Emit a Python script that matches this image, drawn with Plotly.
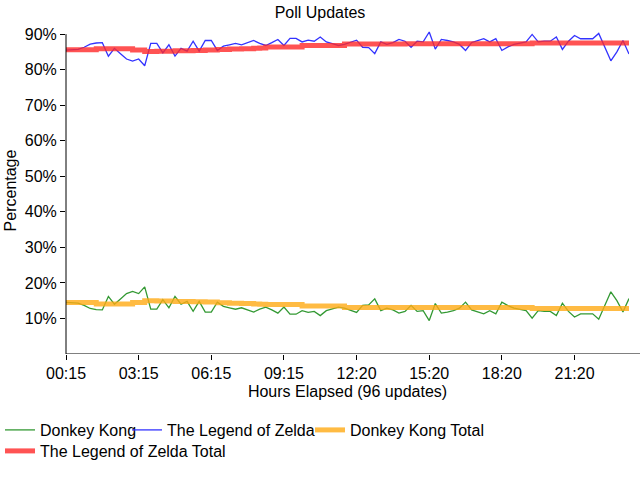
import plotly.graph_objects as go

# ---------------- data ----------------
tick_positions = [0, 12, 24, 36, 48, 60, 72, 84]
tick_labels = ["00:15", "03:15", "06:15", "09:15", "12:20", "15:20", "18:20", "21:20"]

donkey_kong = [14.5, 14.5, 14.3, 13.7, 12.8, 12.5, 12.4, 16.2, 14.0, 15.5,
               17.0, 17.6, 17.0, 18.9, 12.6, 12.6, 15.3, 13.0, 16.2, 14.0,
               14.8, 12.0, 14.8, 11.8, 11.8, 14.6, 13.4, 13.0, 12.6, 13.0,
               12.5, 11.8, 12.6, 13.2, 12.4, 11.5, 13.2, 11.2, 11.2, 12.2,
               11.7, 12.0, 10.8, 12.2, 12.7, 13.2, 12.9, 12.2, 11.7, 13.7,
               13.8, 15.5, 12.2, 12.9, 12.4, 11.5, 12.0, 13.7, 12.0, 12.2,
               9.4, 14.2, 11.5, 11.8, 12.2, 12.9, 14.6, 12.4, 11.8, 11.3,
               12.2, 11.3, 14.6, 13.6, 12.9, 12.5, 12.2, 10.1, 12.2, 12.0,
               12.0, 10.8, 14.3, 12.0, 10.4, 11.3, 11.2, 11.3, 9.8, 13.5,
               17.5, 15.0, 11.8, 15.6]

zelda = [85.5, 85.5, 85.7, 86.3, 87.2, 87.5, 87.6, 83.8, 86.0, 84.5,
         83.0, 82.4, 83.0, 81.1, 87.4, 87.4, 84.7, 87.0, 83.8, 86.0,
         85.2, 88.0, 85.2, 88.2, 88.2, 85.4, 86.6, 87.0, 87.4, 87.0,
         87.5, 88.2, 87.4, 86.8, 87.6, 88.5, 86.8, 88.8, 88.8, 87.8,
         88.3, 88.0, 89.2, 87.8, 87.3, 86.8, 87.1, 87.8, 88.3, 86.3,
         86.2, 84.5, 87.8, 87.1, 87.6, 88.5, 88.0, 86.3, 88.0, 87.8,
         90.6, 85.8, 88.5, 88.2, 87.8, 87.1, 85.4, 87.6, 88.2, 88.7,
         87.8, 88.7, 85.4, 86.4, 87.1, 87.5, 87.8, 89.9, 87.8, 88.0,
         88.0, 89.2, 85.7, 88.0, 89.6, 88.7, 88.8, 88.7, 90.2, 86.5,
         82.5, 85.0, 88.2, 84.4]

donkey_kong_total = [14.5, 14.5, 14.5, 14.5, 14.5,
                     14.1, 14.1, 14.1, 14.1, 14.1, 14.1,
                     14.5, 14.5,
                     15.0, 15.0, 14.9, 14.9, 14.9, 14.8, 14.8, 14.8, 14.7, 14.7, 14.6, 14.6,
                     14.4, 14.4, 14.3, 14.3, 14.2, 14.2, 14.1, 14.0,
                     13.9, 13.9, 13.9, 13.9, 13.9, 13.9,
                     13.5, 13.5, 13.5, 13.5, 13.5, 13.5, 13.5,
                     13.1, 13.1, 13.1, 13.1, 13.1, 13.1, 13.1, 13.1, 13.1, 13.1,
                     13.1, 13.1, 13.1, 13.1, 13.1, 13.1, 13.1, 13.1, 13.1, 13.1,
                     13.1, 13.1, 13.1, 13.1, 13.1, 13.1, 13.1, 13.1, 13.1, 13.1, 13.1,
                     12.8, 12.8, 12.8, 12.8, 12.8, 12.8, 12.8, 12.8, 12.8, 12.8,
                     12.8, 12.8, 12.8, 12.8, 12.8, 12.8, 12.8]

zelda_total = [85.6, 85.6, 85.6, 85.6, 85.6,
               85.9, 85.9, 85.9, 85.9, 85.9, 85.9,
               85.5, 85.5,
               85.1, 85.1, 85.2, 85.2, 85.2, 85.3, 85.3, 85.3, 85.4, 85.4, 85.5, 85.5,
               85.7, 85.7, 85.8, 85.8, 85.9, 85.9, 86.0, 86.1,
               86.4, 86.4, 86.4, 86.4, 86.4, 86.4,
               86.8, 86.8, 86.8, 86.8, 86.8, 86.8, 86.8,
               87.2, 87.2, 87.2, 87.2, 87.2, 87.2, 87.2, 87.2, 87.2, 87.2,
               87.3, 87.3, 87.3, 87.3, 87.3, 87.3, 87.3, 87.3, 87.3, 87.3,
               87.3, 87.3, 87.3, 87.3, 87.3, 87.3, 87.3, 87.3, 87.3, 87.3, 87.3,
               87.5, 87.5, 87.5, 87.5, 87.5, 87.5, 87.5, 87.5, 87.5, 87.5,
               87.5, 87.5, 87.5, 87.5, 87.5, 87.5, 87.5]

y_ticks = [10, 20, 30, 40, 50, 60, 70, 80, 90]
y_tick_labels = ["10%", "20%", "30%", "40%", "50%", "60%", "70%", "80%", "90%"]

# ---------------- figure ----------------
x = list(range(len(donkey_kong)))
FONT = "Liberation Sans, Arial, sans-serif"
FS = 16

fig = go.Figure()
fig.add_trace(go.Scatter(x=x, y=donkey_kong, mode="lines", name="Donkey Kong",
                         legend="legend",
                         line=dict(color="#339933", width=1.3)))
fig.add_trace(go.Scatter(x=x, y=zelda, mode="lines", name="The Legend of Zelda",
                         legend="legend2",
                         line=dict(color="#3333ff", width=1.3)))
fig.add_trace(go.Scatter(x=x, y=donkey_kong_total, mode="lines", name="Donkey Kong Total",
                         legend="legend3",
                         line=dict(color="rgba(255,170,20,0.8)", width=5, shape="hv")))
fig.add_trace(go.Scatter(x=x, y=zelda_total, mode="lines", name="The Legend of Zelda Total",
                         legend="legend4",
                         line=dict(color="rgba(255,40,40,0.8)", width=5, shape="hv")))


def leg(text_left_px, row_center_px):
    return dict(orientation="h", xref="container", yref="container",
                x=max(0, (text_left_px - 40)) / 640, xanchor="left",
                y=1 - (row_center_px - 17) / 480, yanchor="top",
                font=dict(family=FONT, size=FS, color="black"),
                itemwidth=30, bgcolor="rgba(0,0,0,0)", borderwidth=0)


fig.update_layout(
    width=640, height=480,
    margin=dict(l=66, r=11, t=27, b=126),
    paper_bgcolor="white", plot_bgcolor="white",
    font=dict(family=FONT, size=FS, color="black"),
    title=dict(text="Poll Updates", x=0.5, xanchor="center",
               y=1 - 12 / 480, yanchor="middle", yref="container",
               font=dict(family=FONT, size=FS, color="black")),
    showlegend=True,
    legend=leg(36, 430),
    legend2=leg(167, 430),
    legend3=leg(350, 430),
    legend4=leg(36, 451),
    xaxis=dict(range=[0, len(donkey_kong) - 1], tickvals=tick_positions, ticktext=tick_labels,
               showgrid=False, zeroline=False, showline=False,
               ticks="outside", ticklen=5, tickcolor="black",
               tickfont=dict(family=FONT, size=FS, color="black"),
               title=dict(text="Hours Elapsed (96 updates)", standoff=4,
                          font=dict(family=FONT, size=FS, color="black"))),
    yaxis=dict(range=[0, 92], tickvals=y_ticks, ticktext=y_tick_labels,
               showgrid=False, zeroline=False, showline=False,
               ticks="outside", ticklen=5, tickcolor="black",
               tickfont=dict(family=FONT, size=FS, color="black"),
               title=dict(text="Percentage", standoff=4,
                          font=dict(family=FONT, size=FS, color="black"))),
    shapes=[
        dict(type="line", xref="paper", yref="y", x0=0, x1=1.02, y0=0, y1=0,
             line=dict(color="black", width=1)),
        dict(type="line", xref="paper", yref="y", x0=0, x1=0, y0=0, y1=90,
             line=dict(color="black", width=1)),
    ],
)

fig.write_html("out.html")
